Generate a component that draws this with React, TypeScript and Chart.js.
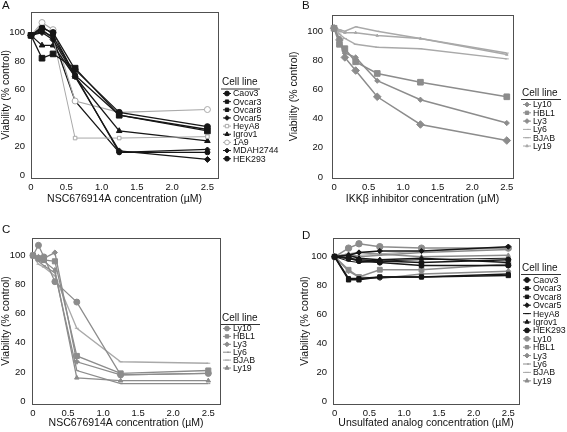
import React, { useEffect, useRef } from 'react';
import { Chart, registerables } from 'chart.js';
import { drawPoint } from 'chart.js/helpers';

Chart.register(...registerables);
Chart.defaults.font.family = '"Liberation Sans", Arial, Helvetica, sans-serif';

// ---------- DATA ----------
const concA = [0, 0.156, 0.3125, 0.625, 1.25, 2.5];
const concB = [0, 0.078, 0.156, 0.3125, 0.625, 1.25, 2.5];
const concC = [0, 0.078, 0.156, 0.3125, 0.625, 1.25, 2.5];
const concD = [0, 0.2, 0.35, 0.65, 1.25, 2.5];

const xTicks = [0, 0.5, 1.0, 1.5, 2.0, 2.5];
const yTicks = [0, 20, 40, 60, 80, 100];

// Panel A (NSC676914A, ovarian + HEK293)
const aCaov3 = [98, 103, 100, 74, 44, 34];
const aOvcar3 = [98, 82, 85, 75, 42, 31];
const aOvcar8 = [98, 101, 97, 70, 42, 32];
const aOvcar5 = [98, 100, 95, 69, 17, 11];
const aHeyA8 = [98, 101, 97, 26, 26, 27];
const aIgrov1 = [98, 91, 91, 69, 31, 24];
const a1A9 = [98, 107, 102, 52, 44, 46];
const aMDAH2744 = [98, 102, 96, 52, 16, 18];
const aHEK293 = [98, 104, 99, 70, 16, 16];

// Panel B (IKKbeta inhibitor, lymphoma)
const bLy10 = [102, 94, 82, 73, 55, 36, 25];
const bHBL1 = [102, 91, 88, 79, 71, 65, 55];
const bLy3 = [102, 95, 85, 82, 66, 53, 37];
const bLy6 = [102, 101, 100, 103, 100, 95, 85];
const bBJAB = [102, 98, 95, 91, 89, 88, 81];
const bLy19 = [102, 100, 99, 99, 97, 95, 84];

// Panel C (NSC676914A, lymphoma)
const cLy10 = [100, 107, 99, 82, 68, 18, 19];
const cHBL1 = [100, 98, 97, 96, 31, 19, 21];
const cLy3 = [100, 99, 98, 102, 27, 18, 19];
const cLy6 = [100, 96, 93, 88, 21, 12, 12];
const cBJAB = [100, 94, 92, 86, 50, 27, 26];
const cLy19 = [100, 97, 96, 90, 16, 14, 14];

// Panel D (unsulfated analog, all lines)
const dCaov3 = [100, 99, 98, 97, 96, 98];
const dOvcar3 = [100, 84, 84, 86, 86, 87];
const dOvcar8 = [100, 85, 85, 86, 86, 88];
const dOvcar5 = [100, 101, 103, 104, 104, 107];
const dHeyA8 = [100, 97, 96, 97, 98, 99];
const dIgrov1 = [100, 101, 99, 98, 99, 96];
const dHEK293 = [100, 99, 97, 96, 94, 94];
const dLy10 = [100, 106, 109, 107, 106, 106];
const dHBL1 = [100, 91, 86, 91, 91, 95];
const dLy3 = [100, 90, 86, 85, 88, 90];
const dLy6 = [100, 102, 100, 101, 103, 105];
const dBJAB = [100, 99, 101, 102, 104, 106];
const dLy19 = [100, 102, 103, 102, 100, 101];

// ---------- STYLE ----------
const BLK = '#161616';
const GRY = '#8c8c8c';
const LGR = '#a9a9a9';
const FAM = '"Liberation Sans", Arial, sans-serif';

type S = { label: string; x: number[]; y: number[]; color: string; style: string; r: number; open?: boolean; w?: number };

function ds(s: S) {
  return {
    label: s.label,
    data: s.y.map((v, i) => ({ x: s.x[i], y: v })),
    borderColor: s.color,
    backgroundColor: s.open ? '#ffffff' : s.color,
    pointBackgroundColor: s.open ? '#ffffff' : s.color,
    pointBorderColor: s.color,
    pointBorderWidth: 1,
    pointStyle: s.style,
    pointRadius: s.r,
    borderWidth: s.w ?? 1.3,
    tension: 0,
    clip: false as const,
  };
}

const seriesA: S[] = [
  { label: 'Caov3', x: concA, y: aCaov3, color: BLK, style: 'circle', r: 3 },
  { label: 'Ovcar3', x: concA, y: aOvcar3, color: BLK, style: 'rect', r: 4 },
  { label: 'Ovcar8', x: concA, y: aOvcar8, color: BLK, style: 'rect', r: 2.8 },
  { label: 'Ovcar5', x: concA, y: aOvcar5, color: BLK, style: 'rectRot', r: 3 },
  { label: 'HeyA8', x: concA, y: aHeyA8, color: LGR, style: 'rect', r: 2.5, open: true, w: 1 },
  { label: 'Igrov1', x: concA, y: aIgrov1, color: BLK, style: 'triangle', r: 3.2 },
  { label: '1A9', x: concA, y: a1A9, color: LGR, style: 'circle', r: 3, open: true, w: 1.1 },
  { label: 'MDAH2744', x: concA, y: aMDAH2744, color: BLK, style: 'rectRot', r: 2.5 },
  { label: 'HEK293', x: concA, y: aHEK293, color: BLK, style: 'circle', r: 2.5 },
];

const seriesB: S[] = [
  { label: 'Ly10', x: concB, y: bLy10, color: GRY, style: 'rectRot', r: 3.8, w: 1.5 },
  { label: 'HBL1', x: concB, y: bHBL1, color: GRY, style: 'rect', r: 4, w: 1.5 },
  { label: 'Ly3', x: concB, y: bLy3, color: GRY, style: 'rectRot', r: 2.6, w: 1.5 },
  { label: 'Ly6', x: concB, y: bLy6, color: LGR, style: 'dash', r: 2, w: 1.5 },
  { label: 'BJAB', x: concB, y: bBJAB, color: LGR, style: 'line', r: 2, w: 1.5 },
  { label: 'Ly19', x: concB, y: bLy19, color: LGR, style: 'triangle', r: 1.5, w: 1.5 },
];

const seriesC: S[] = [
  { label: 'Ly10', x: concC, y: cLy10, color: GRY, style: 'circle', r: 3, w: 1.3 },
  { label: 'HBL1', x: concC, y: cHBL1, color: GRY, style: 'rect', r: 3.6, w: 1.3 },
  { label: 'Ly3', x: concC, y: cLy3, color: GRY, style: 'rectRot', r: 2.6, w: 1.3 },
  { label: 'Ly6', x: concC, y: cLy6, color: GRY, style: 'dash', r: 2, w: 1.3 },
  { label: 'BJAB', x: concC, y: cBJAB, color: LGR, style: 'line', r: 2, w: 1.3 },
  { label: 'Ly19', x: concC, y: cLy19, color: GRY, style: 'triangle', r: 2.6, w: 1.3 },
];

const seriesD: S[] = [
  { label: 'Caov3', x: concD, y: dCaov3, color: BLK, style: 'circle', r: 2.6, w: 1.5 },
  { label: 'Ovcar3', x: concD, y: dOvcar3, color: BLK, style: 'rect', r: 3, w: 1.5 },
  { label: 'Ovcar8', x: concD, y: dOvcar8, color: BLK, style: 'rect', r: 2.6, w: 1.5 },
  { label: 'Ovcar5', x: concD, y: dOvcar5, color: BLK, style: 'rectRot', r: 2.6, w: 1.5 },
  { label: 'HeyA8', x: concD, y: dHeyA8, color: BLK, style: 'line', r: 2, w: 1 },
  { label: 'Igrov1', x: concD, y: dIgrov1, color: BLK, style: 'triangle', r: 2.6, w: 1.5 },
  { label: 'HEK293', x: concD, y: dHEK293, color: BLK, style: 'circle', r: 2.6, w: 1.5 },
  { label: 'Ly10', x: concD, y: dLy10, color: GRY, style: 'circle', r: 3.2, w: 1.5 },
  { label: 'HBL1', x: concD, y: dHBL1, color: GRY, style: 'rect', r: 3.4, w: 1.5 },
  { label: 'Ly3', x: concD, y: dLy3, color: GRY, style: 'rectRot', r: 2.6, w: 1.5 },
  { label: 'Ly6', x: concD, y: dLy6, color: GRY, style: 'dash', r: 2, w: 1.5 },
  { label: 'BJAB', x: concD, y: dBJAB, color: LGR, style: 'line', r: 2, w: 1 },
  { label: 'Ly19', x: concD, y: dLy19, color: GRY, style: 'triangle', r: 2.4, w: 1.5 },
];

// ---------- PLUGIN: frame, panel letter, legend ----------
const framePlugin = {
  id: 'frame',
  beforeDatasetsDraw(chart: any) {
    const { ctx, chartArea: a } = chart;
    ctx.save();
    ctx.strokeStyle = '#505050';
    ctx.lineWidth = 1;
    ctx.strokeRect(Math.round(a.left) + 0.5, Math.round(a.top) + 0.5, Math.round(a.right - a.left), Math.round(a.bottom - a.top));
    ctx.restore();
  },
  afterDraw(chart: any, _args: any, o: any) {
    const { ctx } = chart;
    ctx.save();
    ctx.fillStyle = '#111';
    ctx.textBaseline = 'middle';
    ctx.textAlign = 'left';
    ctx.font = '11.5px ' + FAM;
    ctx.fillText(o.letter, o.lx, o.ly);
    // legend title
    ctx.font = '10px ' + FAM;
    ctx.fillText('Cell line', o.gx, o.gy);
    ctx.strokeStyle = '#333';
    ctx.lineWidth = 1;
    ctx.beginPath();
    ctx.moveTo(o.gx - 1, o.gy + 6.5);
    ctx.lineTo(o.gx + o.uw, o.gy + 6.5);
    ctx.stroke();
    ctx.font = '8.8px ' + FAM;
    chart.data.datasets.forEach((d: any, i: number) => {
      const y = o.ey + i * o.step;
      const x0 = o.gx + 1;
      ctx.strokeStyle = d.borderColor;
      ctx.lineWidth = 1;
      ctx.beginPath();
      ctx.moveTo(x0, y);
      ctx.lineTo(x0 + 8, y);
      ctx.stroke();
      ctx.fillStyle = d.pointBackgroundColor;
      ctx.strokeStyle = d.pointBorderColor;
      drawPoint(ctx, { pointStyle: d.pointStyle, rotation: 0, radius: Math.min(2.4, d.pointRadius), borderWidth: 1 } as any, x0 + 4, y);
      ctx.fillStyle = '#111';
      ctx.fillText(d.label, x0 + 10, y + 0.5);
    });
    ctx.restore();
  },
};

type P = {
  series: S[];
  xTitle: string;
  area: { l: number; t: number; r: number; b: number };
  padLeft: number;
  padBottom: number;
  xMin: number; xMax: number; yMin: number; yMax: number;
  yTickPad: number;
  legend: any;
};

function Panel({ p }: { p: P }) {
  const ref = useRef<HTMLCanvasElement>(null);
  useEffect(() => {
    const W = 567, H = 432;
    const tickFont = { size: 9.5, family: FAM };
    const titleFont = { size: 10.5, family: FAM };
    const chart = new Chart(ref.current as HTMLCanvasElement, {
      type: 'line',
      data: { datasets: p.series.map(ds) as any },
      options: {
        responsive: false,
        animation: false,
        devicePixelRatio: 1,
        layout: { padding: { left: p.padLeft, top: p.area.t, right: W - p.area.r, bottom: p.padBottom } },
        plugins: { legend: { display: false }, tooltip: { enabled: false }, frame: p.legend } as any,
        scales: {
          x: {
            type: 'linear',
            min: p.xMin,
            max: p.xMax,
            afterBuildTicks: (s: any) => { s.ticks = xTicks.map((v) => ({ value: v })); },
            afterFit: (s: any) => { s.height = H - p.padBottom - p.area.b; },
            grid: { display: false, drawTicks: false },
            border: { display: false },
            ticks: { padding: 4, font: tickFont, color: '#111', maxRotation: 0, autoSkip: false, callback: (v: any) => (v === 0 ? '0' : Number(v).toFixed(1)) },
            title: { display: true, text: p.xTitle, font: titleFont, color: '#111', padding: 0 },
          },
          y: {
            type: 'linear',
            min: p.yMin,
            max: p.yMax,
            afterBuildTicks: (s: any) => { s.ticks = yTicks.map((v) => ({ value: v })); },
            afterFit: (s: any) => { s.width = p.area.l - p.padLeft; },
            grid: { display: false, drawTicks: false },
            border: { display: false },
            ticks: { padding: p.yTickPad, font: tickFont, color: '#111', autoSkip: false },
            title: { display: true, text: 'Viability (% control)', font: titleFont, color: '#111', padding: 0 },
          },
        },
      },
      plugins: [framePlugin as any],
    });
    return () => chart.destroy();
  }, []);
  return (
    <canvas ref={ref} width={567} height={432} style={{ position: 'absolute', left: 0, top: 0, width: 567, height: 432 }} />
  );
}

const panels: P[] = [
  {
    series: seriesA, xTitle: 'NSC676914A concentration (µM)',
    area: { l: 31, t: 10, r: 218, b: 178 }, padLeft: 0, padBottom: 226.7,
    xMin: 0, xMax: 2.65, yMin: -2, yMax: 114.6, yTickPad: 6,
    legend: { letter: 'A', lx: 2, ly: 6, gx: 222, gy: 82.5, uw: 38, ey: 93.5, step: 8.15 },
  },
  {
    series: seriesB, xTitle: 'IKKβ inhibitor concentration (µM)',
    area: { l: 332, t: 13, r: 513, b: 178 }, padLeft: 287.7, padBottom: 226.7,
    xMin: -0.03, xMax: 2.59, yMin: -0.7, yMax: 111.3, yTickPad: 9,
    legend: { letter: 'B', lx: 302, ly: 6, gx: 522, gy: 93, uw: 39, ey: 104.5, step: 8.3 },
  },
  {
    series: seriesC, xTitle: 'NSC676914A concentration (µM)',
    area: { l: 32, t: 238, r: 220, b: 404 }, padLeft: 0, padBottom: 2.7,
    xMin: -0.014, xMax: 2.667, yMin: -2, yMax: 112, yTickPad: 6.5,
    legend: { letter: 'C', lx: 2, ly: 230, gx: 222, gy: 318, uw: 38, ey: 328.5, step: 7.9 },
  },
  {
    series: seriesD, xTitle: 'Unsulfated analog concentration (µM)',
    area: { l: 333, t: 238, r: 519, b: 404 }, padLeft: 299, padBottom: 2.7,
    xMin: -0.024, xMax: 2.654, yMin: -2, yMax: 113, yTickPad: 6,
    legend: { letter: 'D', lx: 302, ly: 236, gx: 522, gy: 268, uw: 39, ey: 280, step: 8.4 },
  },
];

export default function App() {
  return (
    <div style={{ position: 'absolute', left: 0, top: 0, width: 567, height: 432, background: '#ffffff', overflow: 'hidden' }}>
      {panels.map((p, i) => (
        <Panel key={i} p={p} />
      ))}
    </div>
  );
}
